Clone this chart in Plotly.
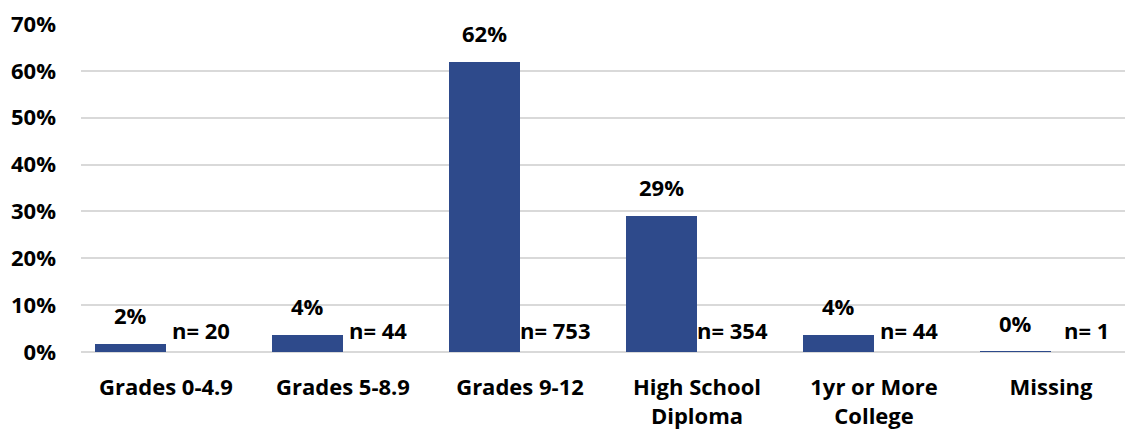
import plotly.graph_objects as go

categories = ["Grades 0-4.9", "Grades 5-8.9", "Grades 9-12", "High School<br>Diploma",
              "1yr or More<br>College", "Missing"]
shares = [0.0164, 0.0362, 0.6192, 0.2911, 0.0362, 0.0008]
counts = [20, 44, 753, 354, 44, 1]

BAR_COLOR = "#2E4A8B"
FONT = dict(family="Open Sans, Lato, sans-serif", size=22, color="#000000", weight="bold")

xs = list(range(len(categories)))

fig = go.Figure()
fig.add_trace(go.Bar(
    x=[x - 0.2 for x in xs], y=shares, width=0.4,
    marker=dict(color=BAR_COLOR, line=dict(width=0)),
    hoverinfo="skip", showlegend=False,
))

# percentage labels above each bar
for x, v in zip(xs, shares):
    fig.add_annotation(x=x - 0.2, y=v, text=f"{v:.0%}", showarrow=False,
                       yanchor="bottom", yshift=12, font=FONT)

# n= labels beside each bar
for x, n in zip(xs, counts):
    fig.add_annotation(x=x + 0.2, y=0, text=f"n= {n}", showarrow=False,
                       yanchor="middle", yshift=22, font=FONT)

# page body has an 8px margin, so the figure is a bit smaller than the window
fig.update_layout(
    width=1125, height=426,
    margin=dict(l=73, r=0, t=14, b=82),
    plot_bgcolor="white", paper_bgcolor="white",
    font=FONT,
    bargap=0,
)
fig.update_xaxes(
    range=[-0.48, 5.463], tickvals=xs, ticktext=categories,
    showgrid=False, zeroline=False, showline=False,
    tickfont=FONT, ticks="", ticklabelstandoff=20,
)
fig.update_yaxes(
    range=[0, 0.7], dtick=0.1, tickformat=".0%",
    showgrid=True, gridcolor="#d9d9d9", gridwidth=1.5,
    zeroline=True, zerolinecolor="#d9d9d9", zerolinewidth=1.5,
    showline=False, tickfont=FONT, ticklabelstandoff=24,
    ticklabeloverflow="allow",
)

fig.write_html("out.html")
